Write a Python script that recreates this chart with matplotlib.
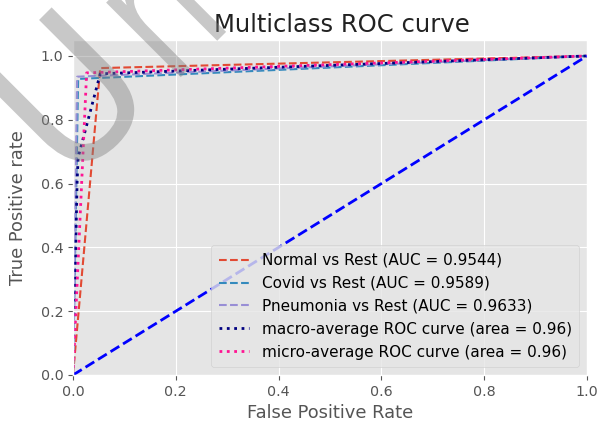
import matplotlib
matplotlib.use("Agg")
import matplotlib.pyplot as plt
from matplotlib.textpath import TextPath
from matplotlib.patches import PathPatch
from matplotlib.font_manager import FontProperties
from matplotlib.transforms import Affine2D

plt.style.use("ggplot")

# ROC operating points (false positive rate, true positive rate)
normal_fpr = [0.0, 0.053, 1.0]
normal_tpr = [0.0, 0.962, 1.0]
covid_fpr = [0.0, 0.010, 1.0]
covid_tpr = [0.0, 0.928, 1.0]
pneumonia_fpr = [0.0, 0.008, 1.0]
pneumonia_tpr = [0.0, 0.935, 1.0]
macro_fpr = [0.0, 0.008, 0.010, 0.053, 1.0]
macro_tpr = [0.0, 0.607, 0.682, 0.944, 1.0]
micro_fpr = [0.0, 0.0265, 1.0]
micro_tpr = [0.0, 0.947, 1.0]
chance = [0.0, 1.0]

class_names = ["Normal", "Covid", "Pneumonia"]
class_auc = [0.9544, 0.9589, 0.9633]
macro_auc = 0.96
micro_auc = 0.96

tick_values = [0.0, 0.2, 0.4, 0.6, 0.8, 1.0]
tick_labels = ["0.0", "0.2", "0.4", "0.6", "0.8", "1.0"]

W, H = 598, 424
fig = plt.figure(figsize=(W / 100, H / 100), dpi=100)
ax = fig.add_axes([73 / W, 49 / H, 514 / W, 335 / H])

class_curves = [(normal_fpr, normal_tpr), (covid_fpr, covid_tpr),
                (pneumonia_fpr, pneumonia_tpr)]
class_colors = ["#E24A33", "#348ABD", "#988ED5"]
for (fpr, tpr), name, auc, col in zip(class_curves, class_names, class_auc, class_colors):
    ax.plot(fpr, tpr, linestyle="--", color=col, lw=1.5,
            label=f"{name} vs Rest (AUC = {auc:.4f})")

ax.plot(macro_fpr, macro_tpr, linestyle=":", color="navy", lw=2,
        label=f"macro-average ROC curve (area = {macro_auc:.2f})")
ax.plot(micro_fpr, micro_tpr, linestyle=":", color="deeppink", lw=2,
        label=f"micro-average ROC curve (area = {micro_auc:.2f})")
ax.plot(chance, chance, "b--", lw=2)

ax.set_xlim(0, 1)
ax.set_ylim(0, 1.05)
ax.set_xticks(tick_values)
ax.set_xticklabels(tick_labels)
ax.set_yticks(tick_values)
ax.set_yticklabels(tick_labels)
ax.tick_params(labelsize=10.3, colors="#555555")
ax.set_xlabel("False Positive Rate", fontsize=12.9, color="#555555")
ax.set_ylabel("True Positive rate", fontsize=12.9, color="#555555")
ax.yaxis.set_label_coords(-0.09, 0.5)
ax.set_title("Multiclass ROC curve", fontsize=17.5, color="#222222", x=0.523)
ax.legend(loc="lower right", bbox_to_anchor=(1.0, 0.0), fontsize=11,
          labelspacing=0.52, handletextpad=0.8, borderpad=0.5)

# diagonal grey stamp in the upper-left corner
fp = FontProperties(family="DejaVu Sans")
X0, Y0 = 69.25, 188.75
sy = 193
for glyph, sx, shift in [("U", 179.5, 0.0), ("n", 140.0, 145.0)]:
    path = TextPath((0, 0), glyph, size=1, prop=fp)
    trans = (Affine2D().scale(sx, sy).translate(shift, 0)
             .rotate_deg(45).translate(X0, H - Y0))
    fig.add_artist(PathPatch(path, transform=trans,
                             facecolor=(0.5, 0.5, 0.5, 0.43),
                             edgecolor="none", zorder=10))

fig.savefig("out.png", dpi=100)
